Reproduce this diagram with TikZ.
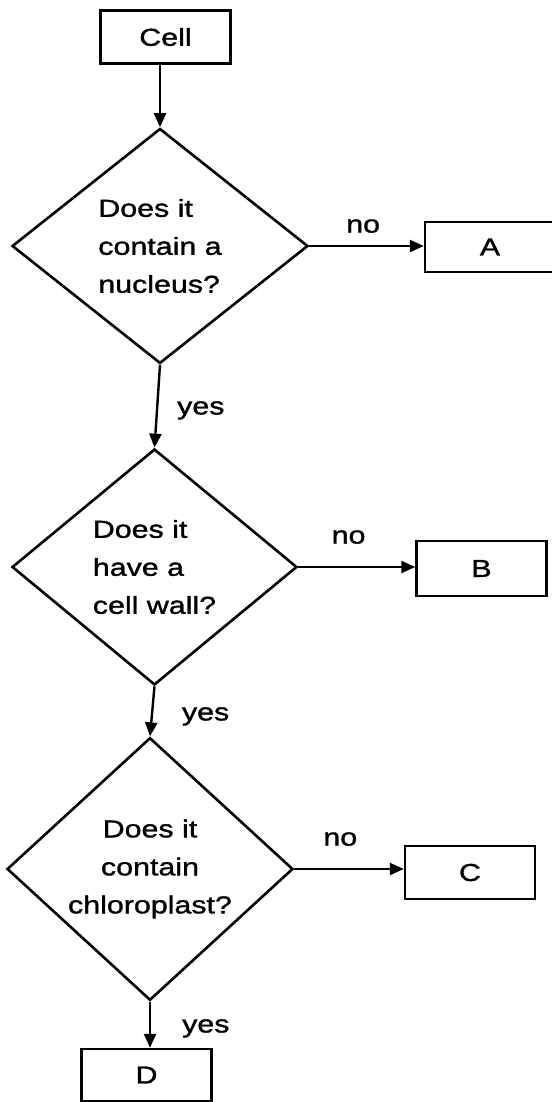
\documentclass[tikz,border=0pt]{standalone}
\usepackage{fontspec}
\setmainfont{Liberation Sans}[FakeStretch=1.24,FakeBold=1.3]
\usetikzlibrary{shapes.geometric,arrows.meta}
\begin{document}
\begin{tikzpicture}[x=1pt,y=-1pt,
    answer/.style={draw=black,line width=2.4pt,minimum width=130pt,minimum height=53pt,inner sep=0pt,font=\fontsize{24.5}{38}\selectfont},
    question/.style={draw=black,line width=2.6pt,diamond,inner sep=0pt,font=\fontsize{24.5}{38}\selectfont},
    link/.style={line width=2.4pt,-{Triangle[length=14pt,width=12pt]}},
    tag/.style={inner sep=0pt,font=\fontsize{24.5}{38}\selectfont}]
    \useasboundingbox (0,0) rectangle (551,1102);

    \node[answer] (cell) at (165.5,37) {Cell};
    \node[question,minimum width=296pt,minimum height=235pt,align=left] (q1) at (160,246) {Does it\\contain a\\nucleus?};
    \node[question,minimum width=285pt,minimum height=236pt,align=left] (q2) at (154.5,567) {Does it\\have a\\cell wall?};
    \node[question,minimum width=286pt,minimum height=235pt,align=center] (q3) at (150,869) {Does it\\contain\\chloroplast?};

    \node[answer,minimum height=50pt] (a) at (490,247) {A};
    \node[answer,minimum height=55pt] (b) at (481.5,568.5) {B};
    \node[answer] (c) at (470,872.5) {C};
    \node[answer,minimum height=52pt] (d) at (146.5,1075) {D};

    \draw[link] (cell.south -| q1.north) -- (q1.north);
    \draw[link] (q1.east) -- (q1.east -| a.west) node[tag,pos=0.47,above=12pt] (no1) {no};
    \draw[link] (q1.south) -- (q2.north) node[tag,pos=0.55,right=19pt] (yes1) {yes};
    \draw[link] (q2.east) -- (q2.east -| b.west) node[tag,pos=0.43,above=22pt] (no2) {no};
    \draw[link] (q2.south) -- (q3.north) node[tag,pos=0.6,right=29pt] (yes2) {yes};
    \draw[link] (q3.east) -- (q3.east -| c.west) node[tag,pos=0.42,above=22pt] (no3) {no};
    \draw[link] (q3.south) -- (q3.south |- d.north) node[tag,pos=0.58,right=31pt] (yes3) {yes};
\end{tikzpicture}
\end{document}
